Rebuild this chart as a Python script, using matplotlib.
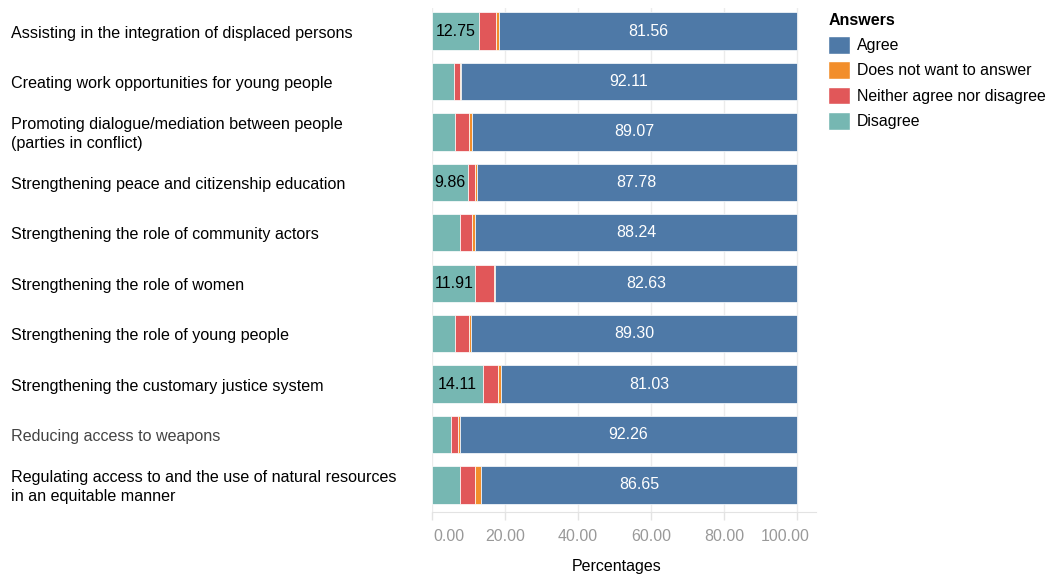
import matplotlib
matplotlib.use('agg')
import matplotlib.pyplot as plt
import matplotlib.transforms as mtransforms
from matplotlib.patches import Patch
import numpy as np

plt.rcParams['font.family'] = ['Liberation Sans', 'DejaVu Sans']

statements = [
    'Assisting in the integration of displaced persons',
    'Creating work opportunities for young people',
    'Promoting dialogue/mediation between people\n(parties in conflict)',
    'Strengthening peace and citizenship education',
    'Strengthening the role of community actors',
    'Strengthening the role of women',
    'Strengthening the role of young people',
    'Strengthening the customary justice system',
    'Reducing access to weapons',
    'Regulating access to and the use of natural resources\nin an equitable manner',
]
disagree = [12.75, 6.00, 6.30, 9.86, 7.67, 11.91, 6.30, 14.11, 5.35, 7.63]
neither = [4.69, 1.60, 3.90, 1.90, 3.20, 5.20, 3.90, 4.10, 1.76, 4.10]
no_answer = [1.00, 0.29, 0.73, 0.46, 0.89, 0.26, 0.50, 0.76, 0.63, 1.62]
agree = [81.56, 92.11, 89.07, 87.78, 88.24, 82.63, 89.30, 81.03, 92.26, 86.65]
ticks = [0, 20, 40, 60, 80, 100]

c_agree = '#4e79a7'
c_noans = '#f28e2b'
c_neither = '#e15759'
c_disagree = '#76b7b2'

fig = plt.figure(figsize=(10.5, 5.74), dpi=100)
ax = fig.add_axes([0.4114, 0.108, 0.3657, 0.878])

y = np.arange(len(statements))
h = 0.74
left = np.zeros(len(y))
for vals, col in [(disagree, c_disagree), (neither, c_neither),
                  (no_answer, c_noans), (agree, c_agree)]:
    ax.barh(y, vals, left=left, height=h, color=col, edgecolor='white',
            linewidth=0.5, zorder=2)
    left = left + np.array(vals)

# value labels: agree always, disagree only when the segment is wide enough
for i in y:
    a_left = disagree[i] + neither[i] + no_answer[i]
    ax.text(a_left + agree[i] / 2, i, f'{agree[i]:.2f}', ha='center',
            va='center', color='white', fontsize=11.5, zorder=3)
    if disagree[i] > 9:
        ax.text(disagree[i] / 2, i, f'{disagree[i]:.2f}', ha='center',
                va='center', color='black', fontsize=11.5, zorder=3)

ax.set_xlim(0, 105.2)
ax.set_ylim(len(y) - 1 + 0.536, -0.456)
ax.set_xticks(ticks)
ax.set_xticklabels([f'{t:.2f}' for t in ticks], color='#999999', fontsize=11.5)
ax.tick_params(axis='x', length=6, color='#e3e3e3', width=1, pad=6)
# keep the outer tick labels inside the axis span
labels = ax.get_xticklabels()
labels[0].set_transform(labels[0].get_transform() +
                        mtransforms.ScaledTranslation(0.17, 0, fig.dpi_scale_trans))
labels[-1].set_transform(labels[-1].get_transform() +
                         mtransforms.ScaledTranslation(-0.12, 0, fig.dpi_scale_trans))
ax.set_yticks([])
ax.grid(axis='x', color='#ececec', linewidth=1, zorder=0)
ax.set_axisbelow(True)
for side in ['top', 'right', 'left']:
    ax.spines[side].set_visible(False)
ax.spines['bottom'].set_color('#e3e3e3')
ax.set_xlabel('Percentages', fontsize=11.5, labelpad=12)
ax.xaxis.set_label_coords(0.482, -0.093)

# category labels, left aligned in the figure margin
for i, s in enumerate(statements):
    col = '#444444' if s.startswith('Reducing') else 'black'
    ax.annotate(s, xy=(0, i), xycoords=('figure fraction', 'data'),
                xytext=(11, -2), textcoords='offset pixels', ha='left',
                va='center', fontsize=11.6, color=col, linespacing=1.3)

handles = [Patch(facecolor=c, edgecolor='white') for c in
           [c_agree, c_noans, c_neither, c_disagree]]
leg = fig.legend(handles, ['Agree', 'Does not want to answer',
                           'Neither agree nor disagree', 'Disagree'],
                 title='Answers', loc='upper left',
                 bbox_to_anchor=(0.783, 0.988), frameon=False, fontsize=11.4,
                 handlelength=1.35, handleheight=1.35, handletextpad=0.45,
                 labelspacing=0.48, borderaxespad=0)
leg.get_title().set_fontweight('bold')
leg.get_title().set_fontsize(11.5)
leg._legend_box.align = 'left'

fig.savefig('out.png', dpi=100)
